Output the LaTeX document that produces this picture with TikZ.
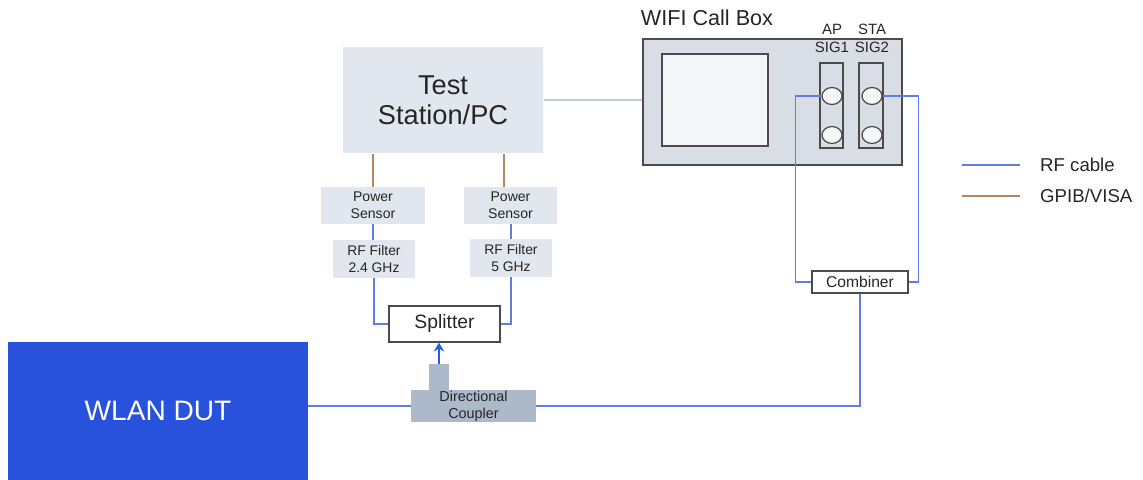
\documentclass[tikz,border=0pt]{standalone}
\usepackage{fontspec}
\setmainfont{Liberation Sans}
\usetikzlibrary{shapes.geometric,arrows.meta}

\definecolor{boxgray}{RGB}{226,230,238}
\definecolor{callgray}{RGB}{217,221,230}
\definecolor{screenwhite}{RGB}{245,246,248}
\definecolor{couplergray}{RGB}{172,185,203}
\definecolor{dutblue}{RGB}{41,82,220}
\definecolor{arrowblue}{RGB}{40,92,240}
\definecolor{rfblue}{RGB}{95,125,228}
\definecolor{gpibbrown}{RGB}{178,136,100}
\definecolor{linkgray}{RGB}{197,204,216}
\definecolor{edgegray}{RGB}{75,75,75}

\begin{document}
\begin{tikzpicture}[
    x=0.02cm, y=-0.02cm,
    light/.style={
        rectangle,
        fill=boxgray,
        inner sep=0pt,
        align=center,
        text=black!85
    },
    plain/.style={
        rectangle,
        draw=edgegray,
        line width=0.8pt,
        fill=white,
        inner sep=0pt,
        align=center,
        text=black!85
    },
    port/.style={
        ellipse,
        draw=edgegray,
        line width=0.7pt,
        fill=screenwhite,
        minimum width=0.4cm,
        minimum height=0.34cm,
        inner sep=0pt
    },
    rf/.style={draw=rfblue, line width=0.9pt},
    gpib/.style={draw=gpibbrown, line width=0.9pt},
    label/.style={font=\fontsize{8.5}{10.2}\selectfont, align=center, text=black!85}
]
\useasboundingbox (0,0) rectangle (1143,480);

\node[light, minimum width=4.02cm, minimum height=2.14cm,
      font=\fontsize{15.5}{17}\selectfont] (pc) at (443,100) {Test\\Station/PC};

\node[plain, fill=callgray, minimum width=5.18cm, minimum height=2.52cm] (callbox) at (772.5,102) {};
\node[plain, fill=screenwhite, minimum width=2.12cm, minimum height=1.84cm] (screen) at (715,100) {};
\node[plain, fill=callgray, minimum width=0.46cm, minimum height=1.7cm] (sig1) at (831.5,105.5) {};
\node[plain, fill=callgray, minimum width=0.48cm, minimum height=1.7cm] (sig2) at (871,105.5) {};
\node[port] (p1a) at (832,96) {};
\node[port] (p1b) at (832,135) {};
\node[port] (p2a) at (872,96) {};
\node[port] (p2b) at (872,135) {};
\node[font=\fontsize{12.3}{14}\selectfont, text=black!85] (title) at (707,18) {WIFI Call Box};
\node[label] (aplbl) at (832,38) {AP\\SIG1};
\node[label] (stalbl) at (872,38) {STA\\SIG2};

\node[light, minimum width=2.08cm, minimum height=0.74cm, font=\fontsize{8}{9.5}\selectfont] (ps1) at (373,205.5) {Power\\Sensor};
\node[light, minimum width=1.86cm, minimum height=0.74cm, font=\fontsize{8}{9.5}\selectfont] (ps2) at (510.5,205.5) {Power\\Sensor};
\node[light, minimum width=1.64cm, minimum height=0.76cm, font=\fontsize{7.9}{9.5}\selectfont] (flt1) at (374,259) {RF Filter\\2.4 GHz};
\node[light, minimum width=1.64cm, minimum height=0.76cm, font=\fontsize{7.9}{9.5}\selectfont] (flt2) at (511,258) {RF Filter\\5 GHz};

\node[plain, minimum width=2.22cm, minimum height=0.72cm, font=\fontsize{11}{13}\selectfont] (splitter) at (444.5,324) {Splitter};
\node[plain, minimum width=1.92cm, minimum height=0.44cm, font=\fontsize{8.9}{10}\selectfont] (combiner) at (860,282) {Combiner};

\node[light, fill=couplergray, minimum width=0.4cm, minimum height=0.52cm] (tab) at (439,377) {};
\node[light, fill=couplergray, minimum width=2.5cm, minimum height=0.64cm, font=\fontsize{8.2}{9.6}\selectfont] (coupler) at (473.5,406) {Directional\\Coupler};

\node[rectangle, fill=dutblue, inner sep=0pt, minimum width=6cm, minimum height=2.76cm,
      text=white, font=\fontsize{16}{18}\selectfont] (dut) at (158,411) {WLAN DUT};

\draw[linkgray, line width=0.8pt] (pc.east) -- (pc.east -| callbox.west);
\draw[gpib] (ps1.north) -- (ps1.north |- pc.south);
\draw[gpib] ([xshift=-0.13cm]ps2.north) -- ([xshift=-0.13cm]ps2.north |- pc.south);
\draw[rf] (ps1.south) -- (ps1.south |- flt1.north);
\draw[rf] (flt2.north |- ps2.south) -- (flt2.north);
\draw[rf] (flt1.south) |- (splitter.west);
\draw[rf] (flt2.south) |- (splitter.east);
\draw[-{Stealth[length=5pt,width=6pt]}, draw=arrowblue, line width=1.1pt] (tab.north) -- (tab.north |- splitter.south);
\draw[rf] (dut.east |- coupler.west) -- (coupler.west);
\draw[rf] (coupler.east) -| (combiner.south);
\draw[rf] (p1a.west) -- ++(-26,0) |- (combiner.west);
\draw[rf] (p2a.east) -- ++(36,0) |- (combiner.east);

% legend
\coordinate (rfa) at (962,165);
\coordinate (rfb) at (1020,165);
\coordinate (gpa) at (962,196);
\coordinate (gpb) at (1020,196);
\draw[rf] (rfa) -- (rfb);
\draw[gpib] (gpa) -- (gpb);
\node[anchor=west, font=\fontsize{10.6}{12}\selectfont, text=black!85] (rflbl) at (1034,165) {RF cable};
\node[anchor=west, font=\fontsize{10.6}{12}\selectfont, text=black!85] (gplbl) at (1034,196) {GPIB/VISA};

\end{tikzpicture}
\end{document}
